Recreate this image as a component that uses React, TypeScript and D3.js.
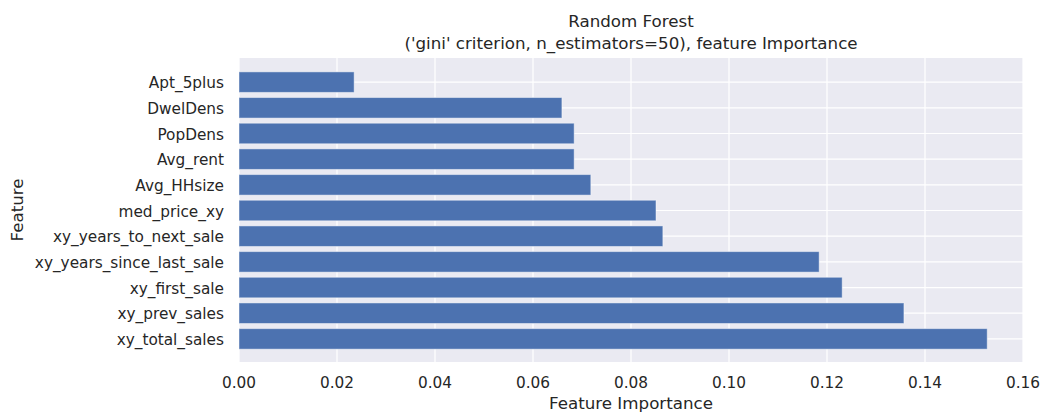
import React from "react";
import * as d3 from "d3";

const features = [
  "xy_total_sales",
  "xy_prev_sales",
  "xy_first_sale",
  "xy_years_since_last_sale",
  "xy_years_to_next_sale",
  "med_price_xy",
  "Avg_HHsize",
  "Avg_rent",
  "PopDens",
  "DwelDens",
  "Apt_5plus",
];
const importances = [0.1527, 0.1357, 0.1231, 0.1184, 0.0865, 0.0851, 0.0718, 0.0684, 0.0684, 0.0659, 0.0235];
const xTicks = [0, 0.02, 0.04, 0.06, 0.08, 0.1, 0.12, 0.14, 0.16];
const titleLines = ["Random Forest", "('gini' criterion, n_estimators=50), feature Importance"];

export default function App() {
  const W = 1042, H = 413;
  const left = 239, right = 1023, top = 58, bottom = 362;
  const x = d3.scaleLinear().domain([0, 0.16]).range([left, right]);
  const y = d3.scaleLinear().domain([-0.9, features.length - 1 + 0.94]).range([bottom, top]);
  const barH = Math.abs(y(0.4) - y(-0.4));
  const font = "'DejaVu Sans', sans-serif";
  const textColor = "#262626";
  const cx = (left + right) / 2;
  return (
    <svg width={W} height={H} style={{ position: "absolute", left: 0, top: 0 }} fontFamily={font}>
      <rect x={0} y={0} width={W} height={H} fill="#fff" />
      <rect x={left} y={top} width={right - left} height={bottom - top} fill="#EAEAF2" />
      {xTicks.map((t) => (
        <line key={"vx" + t} x1={x(t)} x2={x(t)} y1={top} y2={bottom} stroke="#fff" strokeWidth={1.2} />
      ))}
      {features.map((f, i) => (
        <line key={"hy" + f} x1={left} x2={right} y1={y(i)} y2={y(i)} stroke="#fff" strokeWidth={1.2} />
      ))}
      {features.map((f, i) => (
        <rect
          key={"b" + f}
          x={x(0)}
          y={y(i) - barH / 2}
          width={x(importances[i]) - x(0)}
          height={barH}
          fill="#4C72B0"
          stroke="#ffffff"
          strokeOpacity={0.45}
          strokeWidth={1}
        />
      ))}
      {features.map((f, i) => (
        <text key={"yl" + f} x={224} y={y(i)} dy="0.4em" textAnchor="end" fontSize={15.3} fill={textColor}>
          {f}
        </text>
      ))}
      {xTicks.map((t) => (
        <text key={"xl" + t} x={x(t)} y={388} textAnchor="middle" fontSize={15.3} fill={textColor}>
          {d3.format(".2f")(t)}
        </text>
      ))}
      <text x={cx} y={409} textAnchor="middle" fontSize={16.7} fill={textColor}>
        Feature Importance
      </text>
      <text transform={`translate(23,${(top + bottom) / 2}) rotate(-90)`} textAnchor="middle" fontSize={16.7} fill={textColor}>
        Feature
      </text>
      {titleLines.map((l, i) => (
        <text key={"t" + i} x={cx} y={27 + i * 21.5} textAnchor="middle" fontSize={16.7} fill={textColor}>
          {l}
        </text>
      ))}
    </svg>
  );
}
